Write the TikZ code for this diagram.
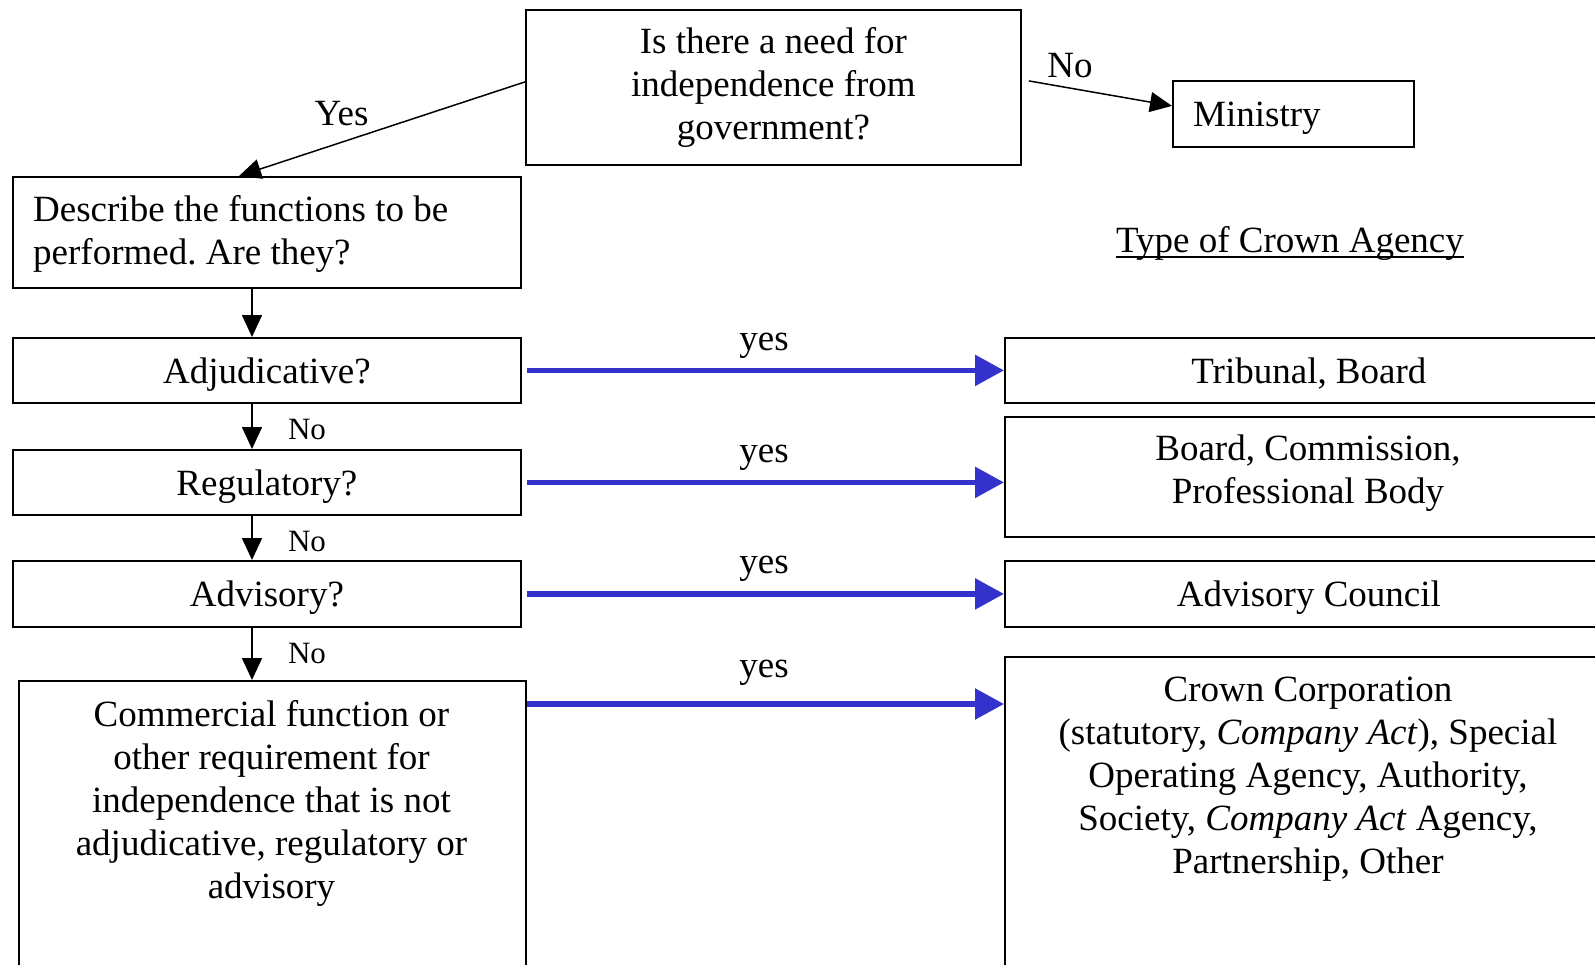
\documentclass[tikz,border=0pt]{standalone}
\usepackage{fontspec}
\setmainfont{Liberation Serif}
\usetikzlibrary{arrows.meta}
\definecolor{arrowblue}{RGB}{51,51,204}
\newcommand{\mainsz}{\fontsize{37pt}{43pt}\selectfont\frenchspacing}
\newcommand{\smallsz}{\fontsize{31pt}{36pt}\selectfont}
\begin{document}
\begin{tikzpicture}[x=1pt,y=-1pt,
  box/.style={draw, line width=1.8pt, rectangle, inner sep=0pt, anchor=north west, align=center, font=\mainsz},
  onebox/.style={box, text depth=0pt},
  txt/.style={inner sep=0pt, font=\mainsz, align=center},
  smalltxt/.style={inner sep=0pt, font=\smallsz},
  blkarr/.style={line width=1.5pt, -{Triangle[length=22pt,width=20pt]}},
  bluearr/.style={draw=arrowblue, line width=5.5pt, -{Triangle[length=29pt,width=30pt,fill=arrowblue]}}]
\useasboundingbox (0,0) rectangle (1595,964);
\clip (0,0) rectangle (1595,964);
\fill[white] (0,0) rectangle (1595,964);

% boxes
\node[box, minimum width=495, minimum height=155] (q) at (525,9) {Is there a need for\\independence from\\government?};
\node[box, minimum width=241, minimum height=66] (min) at (1172,80) {};
\node[txt, anchor=base west] (mint) at (1193,126) {Ministry};

\node[box, minimum width=508, minimum height=111] (desc) at (12,176) {};
\node[txt, anchor=west, align=left] (desct) at (33,234) {Describe the functions to be\\performed. Are they?};

\node[onebox, minimum width=508, minimum height=65] (adj) at (12,337) {Adjudicative?};
\node[onebox, minimum width=508, minimum height=65] (reg) at (12,449) {Regulatory?};
\node[onebox, minimum width=508, minimum height=66] (adv) at (12,560) {Advisory?};
\node[box, minimum width=507, minimum height=400] (com) at (18,680) {};
\node[txt] (comt) at (271.5,803) {Commercial function or\\other requirement for\\independence that is not\\adjudicative, regulatory or\\advisory};

\node[txt, anchor=base] (tca) at (1290,252) {Type of Crown Agency};
\draw[line width=1.8pt] ([yshift=-5pt]tca.base west) -- ([yshift=-5pt]tca.base east);

\node[onebox, minimum width=608, minimum height=65] (trib) at (1004,337) {Tribunal, Board};
\node[box, minimum width=608, minimum height=120] (board) at (1004,416) {};
\node[txt] (boardt) at (1308,473) {Board, Commission,\\Professional Body};
\node[onebox, minimum width=608, minimum height=66] (advc) at (1004,560) {Advisory Council};
\node[box, minimum width=608, minimum height=400] (crown) at (1004,656) {};
\node[txt] (crownt) at (1308,779) {Crown Corporation\\(statutory, \textit{Company Act}), Special\\Operating Agency, Authority,\\Society, \textit{Company Act} Agency,\\Partnership, Other};

% top connectors
\coordinate (yx) at (239,0);
\draw[blkarr] ([yshift=5.5pt]q.west) -- (desc.north -| yx);
\node[txt, anchor=base] (yeslbl) at (341.5,125) {Yes};
\draw[blkarr] ([xshift=7pt,yshift=6.5pt]q.east) -- ([yshift=8pt]min.west);
\node[txt, anchor=base] (nolbl) at (1070,77) {No};

% vertical chain
\coordinate (vx) at (252,0);
\draw[blkarr] (desc.south -| vx) -- (adj.north -| vx);
\draw[blkarr] (adj.south -| vx) -- (reg.north -| vx);
\draw[blkarr] (reg.south -| vx) -- (adv.north -| vx);
\draw[blkarr] (adv.south -| vx) -- (com.north -| vx);
\node[smalltxt, anchor=base] (no1) at (307,439) {No};
\node[smalltxt, anchor=base] (no2) at (307,551) {No};
\node[smalltxt, anchor=base] (no3) at (307,663) {No};

% blue arrows
\draw[bluearr] ([xshift=5pt]adj.east) -- (trib.west);
\draw[bluearr] ([xshift=5pt]reg.east) -- (reg.east -| board.west);
\draw[bluearr] ([xshift=5pt]adv.east) -- (advc.west);
\coordinate (c4) at ([yshift=-24pt]com.north east);
\draw[bluearr] (c4) -- (c4 -| crown.west);
\node[txt, anchor=base] (y1) at (764,350) {yes};
\node[txt, anchor=base] (y2) at (764,462) {yes};
\node[txt, anchor=base] (y3) at (764,573) {yes};
\node[txt, anchor=base] (y4) at (764,677) {yes};
\end{tikzpicture}
\end{document}
